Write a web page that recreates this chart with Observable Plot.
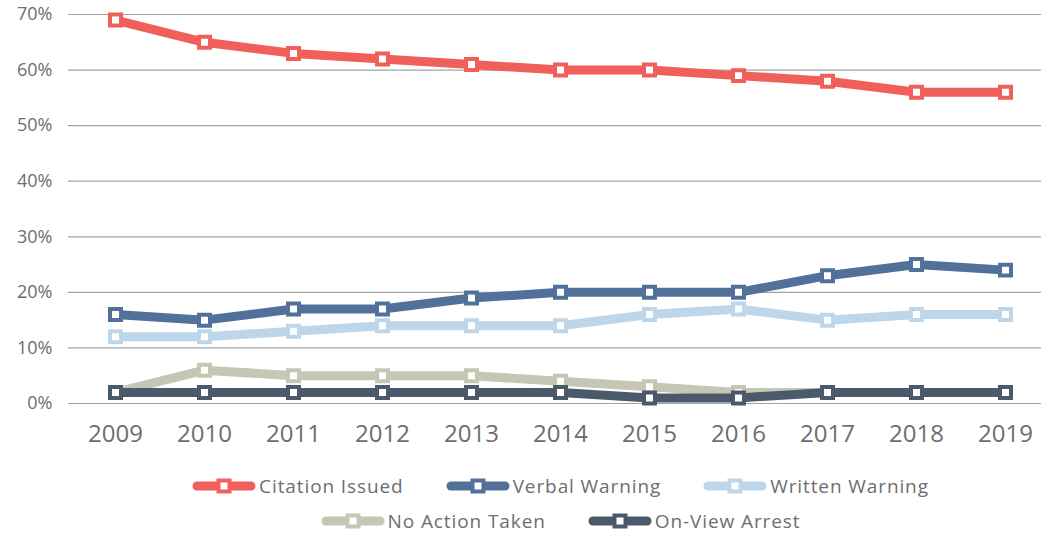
<!DOCTYPE html>
<html>
<head>
<meta charset="utf-8">
<script src="https://cdn.jsdelivr.net/npm/d3@7"></script>
<script src="https://cdn.jsdelivr.net/npm/@observablehq/plot@0.6"></script>
<style>
  html, body { margin: 0; padding: 0; background: #fff; overflow: hidden; }
  body { width: 1041px; height: 533px; font-family: "Open Sans", sans-serif; color: #6d6e70; }
  #legend { width: 1041px; box-sizing: border-box; padding-left: 80px; margin-top: 13px; }
  .row { display: flex; justify-content: center; align-items: center; gap: 42px; height: 35px; }
  .item { display: flex; align-items: center; font-size: 19px; letter-spacing: 0.9px; }
  .item svg { margin-right: 3px; }
</style>
</head>
<body>
<div id="chart"></div>
<div id="legend"></div>
<script>
const years = ["2009","2010","2011","2012","2013","2014","2015","2016","2017","2018","2019"];
const seriesNames = ["Citation Issued","Verbal Warning","Written Warning","No Action Taken","On-View Arrest"];
const seriesColors = ["#f05f5a","#52719a","#bed6ea","#c5c6b4","#4b5a6a"];
const citationIssued = [69,65,63,62,61,60,60,59,58,56,56];
const verbalWarning  = [16,15,17,17,19,20,20,20,23,25,24];
const writtenWarning = [12,12,13,14,14,14,16,17,15,16,16];
const noActionTaken  = [2,6,5,5,5,4,3,2,2,2,2];
const onViewArrest   = [2,2,2,2,2,2,1,1,2,2,2];
const yTicks = [0,10,20,30,40,50,60,70];

const allValues = [citationIssued, verbalWarning, writtenWarning, noActionTaken, onViewArrest];
const data = [];
seriesNames.forEach((s, i) => {
  years.forEach((y, j) => data.push({series: s, year: y, value: allValues[i][j] / 100, color: seriesColors[i]}));
});

const marks = [
  Plot.ruleY(yTicks.map(d => d / 100), {stroke: "#a3a3a3", strokeWidth: 1.2}),
  Plot.axisY(yTicks.map(d => d / 100), {tickFormat: d => Math.round(d * 100) + "%", tickSize: 0, tickPadding: 16, fontSize: 18, fill: "#6d6e70", letterSpacing: "1px"}),
  Plot.axisX({tickSize: 0, tickPadding: 21, fontSize: 24, fill: "#6d6e70", letterSpacing: "2.5px"})
];
seriesNames.forEach((s, i) => {
  const d = data.filter(r => r.series === s);
  marks.push(Plot.line(d, {x: "year", y: "value", stroke: seriesColors[i], strokeWidth: 9, strokeLinejoin: "round"}));
  marks.push(Plot.dot(d, {x: "year", y: "value", symbol: "square", r: 6.2, fill: "white", stroke: seriesColors[i], strokeWidth: 4}));
});

const chart = Plot.plot({
  width: 1041,
  height: 455,
  marginTop: 14,
  marginBottom: 52,
  marginLeft: 68,
  marginRight: 0,
  style: {fontFamily: "'Open Sans', sans-serif", color: "#6d6e70", background: "white"},
  x: {type: "point", domain: years, range: [113, 1007], padding: 0, label: null},
  y: {domain: [0, 0.7], label: null},
  marks
});
document.getElementById("chart").appendChild(chart);

// legend
const legend = document.getElementById("legend");
const rows = [[0,1,2],[3,4]];
rows.forEach(r => {
  const row = document.createElement("div");
  row.className = "row";
  r.forEach(i => {
    const item = document.createElement("div");
    item.className = "item";
    item.innerHTML = `<svg width="64" height="18"><line x1="5" y1="9" x2="59" y2="9" stroke="${seriesColors[i]}" stroke-width="9" stroke-linecap="round"/><rect x="26.5" y="3.5" width="11" height="11" fill="white" stroke="${seriesColors[i]}" stroke-width="4"/></svg><span>${seriesNames[i]}</span>`;
    row.appendChild(item);
  });
  legend.appendChild(row);
});
</script>
</body>
</html>
